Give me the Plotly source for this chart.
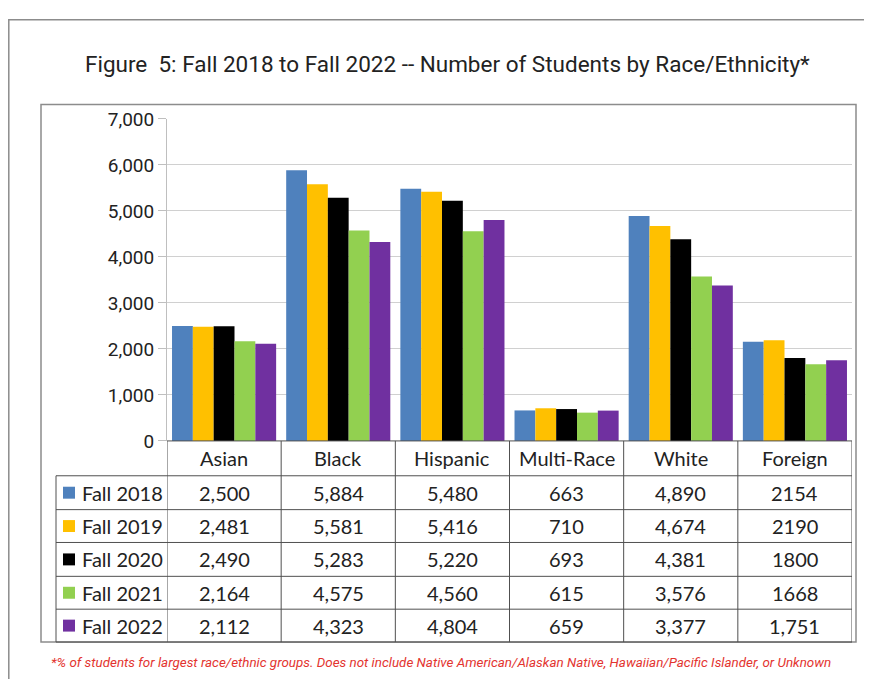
import plotly.graph_objects as go

# Page body has a default 8px margin; the figure is sized to fit the window.
OFF = 8
W, H = 872 - 2 * OFF, 687 - 2 * OFF
# empirical vertical mapping of figure px -> screenshot px (y_shot = VOFF + VS * y_fig)
VOFF, VS = 17.2, 0.97

categories = ["Asian", "Black", "Hispanic", "Multi-Race", "White", "Foreign"]
years = ["Fall 2018", "Fall 2019", "Fall 2020", "Fall 2021", "Fall 2022"]
fall_2018 = [2500, 5884, 5480, 663, 4890, 2154]
fall_2019 = [2481, 5581, 5416, 710, 4674, 2190]
fall_2020 = [2490, 5283, 5220, 693, 4381, 1800]
fall_2021 = [2164, 4575, 4560, 615, 3576, 1668]
fall_2022 = [2112, 4323, 4804, 659, 3377, 1751]
series = [fall_2018, fall_2019, fall_2020, fall_2021, fall_2022]
# table labels as shown in the source (Foreign mostly without thousands separator)
table_text = [
    ["2,500", "5,884", "5,480", "663", "4,890", "2154"],
    ["2,481", "5,581", "5,416", "710", "4,674", "2190"],
    ["2,490", "5,283", "5,220", "693", "4,381", "1800"],
    ["2,164", "4,575", "4,560", "615", "3,576", "1668"],
    ["2,112", "4,323", "4,804", "659", "3,377", "1,751"],
]
colors = ["#4F81BD", "#FFC000", "#000000", "#92D050", "#7030A0"]
y_ticks = [0, 1000, 2000, 3000, 4000, 5000, 6000, 7000]

title = "Figure \u00a05: Fall 2018 to Fall 2022 -- Number of Students by Race/Ethnicity*"
footnote = ("*% of students for largest race/ethnic groups. Does not include Native "
            "American/Alaskan Native, Hawaiian/Pacific Islander, or Unknown")


def X(px):
    return (px - OFF) / W


def Y(py):
    fy = (py - VOFF) / VS
    return 1 - fy / H


fig = go.Figure()
for name, vals, col in zip(years, series, colors):
    fig.add_trace(go.Bar(name=name, x=categories, y=vals,
                         marker=dict(color=col, line=dict(width=0)),
                         showlegend=False))

plot_left, plot_right = 167, 852
plot_top, plot_bottom = 117.5, 441
hdr_bottom = 476
row_edges = [476, 510, 543, 577, 610, 643]
label_left = 56

line_col = "#505050"
frame_col = "#8c8c8c"
shapes = []
# outer frame (left and top edges)
shapes.append(dict(type="path", xref="paper", yref="paper",
                   path=f"M {X(8.8)},{Y(720)} L {X(8.8)},{Y(18)} L {X(880)},{Y(18)}",
                   line=dict(color=frame_col, width=1.5)))
# inner box
shapes.append(dict(type="rect", xref="paper", yref="paper",
                   x0=X(41), x1=X(856), y0=Y(643), y1=Y(103),
                   line=dict(color=frame_col, width=1.5)))
# table horizontal lines
shapes.append(dict(type="line", xref="paper", yref="paper",
                   x0=X(plot_left), x1=X(plot_right), y0=Y(plot_bottom), y1=Y(plot_bottom),
                   line=dict(color=line_col, width=1)))
for ry in row_edges:
    shapes.append(dict(type="line", xref="paper", yref="paper",
                       x0=X(label_left), x1=X(plot_right), y0=Y(ry), y1=Y(ry),
                       line=dict(color=line_col, width=1)))
# table vertical lines at category boundaries
for i in range(len(categories) + 1):
    shapes.append(dict(type="line", xref="x", yref="paper",
                       x0=i - 0.5, x1=i - 0.5, y0=Y(643), y1=Y(plot_bottom),
                       line=dict(color=line_col, width=1)))
shapes.append(dict(type="line", xref="paper", yref="paper",
                   x0=X(label_left), x1=X(label_left), y0=Y(643), y1=Y(hdr_bottom),
                   line=dict(color=line_col, width=1)))

annotations = []
tfont = dict(family="Lato, Calibri, sans-serif", size=20, color="#222222")
for c in categories:
    annotations.append(dict(x=c, xref="x", y=Y((plot_bottom + hdr_bottom) / 2), yref="paper",
                            text=c, showarrow=False, font=tfont,
                            xanchor="center", yanchor="middle"))
for r, (name, col) in enumerate(zip(years, colors)):
    yc = (row_edges[r] + row_edges[r + 1]) / 2
    shapes.append(dict(type="rect", xref="paper", yref="paper",
                       x0=X(63), x1=X(75), y0=Y(yc + 6), y1=Y(yc - 6),
                       fillcolor=col, line=dict(width=0)))
    annotations.append(dict(x=X(80), xref="paper", y=Y(yc), yref="paper",
                            text=name, showarrow=False, font=tfont,
                            xanchor="left", yanchor="middle"))
    for c, txt in zip(categories, table_text[r]):
        annotations.append(dict(x=c, xref="x", y=Y(yc), yref="paper",
                                text=txt, showarrow=False, font=tfont,
                                xanchor="center", yanchor="middle"))

annotations.append(dict(x=X(448), y=Y(62), xref="paper", yref="paper", text=title,
                        showarrow=False, xanchor="center", yanchor="middle",
                        font=dict(family="Roboto, sans-serif", size=22.5, color="#222222")))
annotations.append(dict(x=X(441), y=Y(664), xref="paper", yref="paper",
                        text=f"<i>{footnote}</i>",
                        showarrow=False, xanchor="center", yanchor="middle",
                        font=dict(family="Roboto, sans-serif", size=13.4, color="#E3342F")))

fig.update_layout(
    width=W, height=H,
    margin=dict(l=0, r=0, t=0, b=0),
    paper_bgcolor="white", plot_bgcolor="white",
    barmode="group", bargap=0.088, bargroupgap=0,
    shapes=shapes, annotations=annotations,
    xaxis=dict(domain=[X(plot_left), X(plot_right)], showticklabels=False,
               showgrid=False, zeroline=False, showline=False, ticks="",
               range=[-0.5, len(categories) - 0.5], fixedrange=True),
    yaxis=dict(domain=[Y(plot_bottom), Y(plot_top)], range=[0, 7000],
               tickvals=y_ticks, tickformat=",", showgrid=True, gridcolor="#D0D0D0",
               gridwidth=1, zeroline=False, showline=True, linecolor="#BFBFBF",
               ticks="outside", ticklen=8, tickcolor="#BFBFBF",
               tickfont=dict(family="Roboto, sans-serif", size=19, color="#222222"),
               fixedrange=True),
)

fig.write_html("out.html")
